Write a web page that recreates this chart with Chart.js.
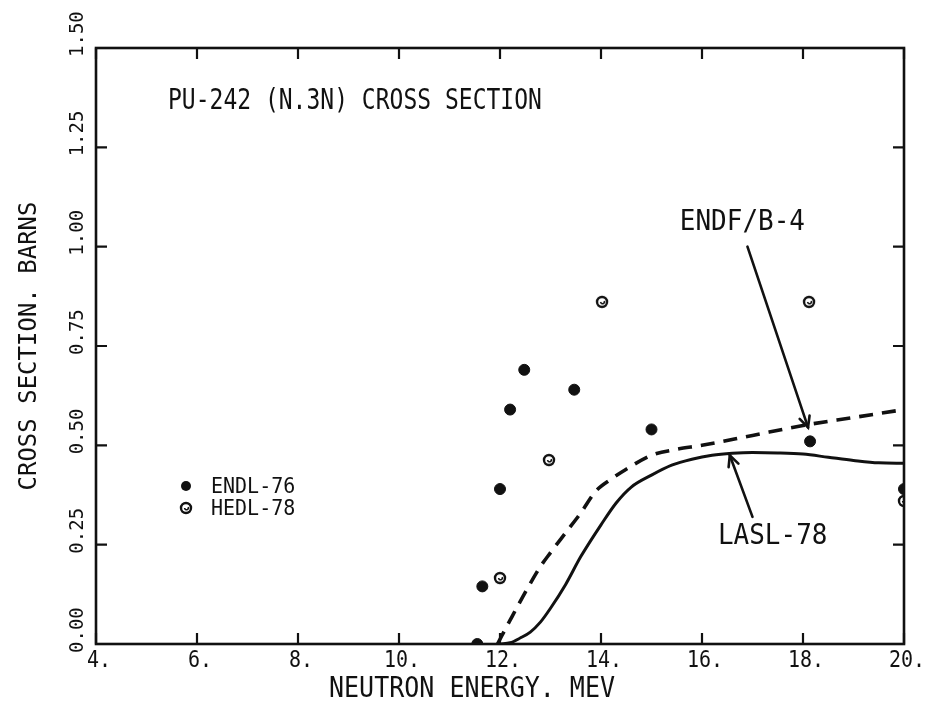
<!DOCTYPE html>
<html>
<head>
<meta charset="utf-8">
<script src="https://cdn.jsdelivr.net/npm/chart.js@4"></script>
<style>
  html, body { margin: 0; padding: 0; background: #fff; }
  #wrap { width: 932px; height: 714px; }
</style>
</head>
<body>
<div id="wrap"><canvas id="c" width="932" height="714"></canvas></div>
<script>
// ---------------- data ----------------
const titleText = "PU-242 (N.3N) CROSS SECTION";
const xAxisTitle = "NEUTRON ENERGY. MEV";
const yAxisTitle = "CROSS SECTION. BARNS";

const xTickValues = [4, 6, 8, 10, 12, 14, 16, 18, 20];
const xTickLabels = ["4.", "6.", "8.", "10.", "12.", "14.", "16.", "18.", "20."];
const yTickValues = [0, 0.25, 0.5, 0.75, 1.0, 1.25, 1.5];
const yTickLabels = ["0.00", "0.25", "0.50", "0.75", "1.00", "1.25", "1.50"];

// ENDL-76 (filled dots)
const endlX = [11.55, 11.65, 12.0, 12.2, 12.48, 13.47, 15.0, 18.14, 20.0];
const endlY = [0.0, 0.145, 0.39, 0.59, 0.69, 0.64, 0.54, 0.51, 0.39];

// HEDL-78 (open circles)
const hedlX = [12.0, 12.97, 14.02, 18.12, 20.0];
const hedlY = [0.166, 0.463, 0.861, 0.861, 0.36];

// ENDF/B-4 (dashed curve)
const endfX = [11.95, 12.2, 12.5, 12.8, 13.0, 13.3, 13.6, 13.9, 14.2, 14.5, 15.0, 15.5, 16.0, 17.0, 18.0, 19.0, 20.0];
const endfY = [0.0, 0.06, 0.13, 0.195, 0.23, 0.28, 0.33, 0.385, 0.415, 0.44, 0.475, 0.49, 0.50, 0.525, 0.55, 0.57, 0.59];

// LASL-78 (solid curve)
const laslX = [12.0, 12.2, 12.4, 12.6, 12.8, 13.0, 13.3, 13.6, 14.0, 14.3, 14.6, 15.0, 15.4, 15.8, 16.2, 16.6, 17.0, 17.5, 18.0, 18.5, 19.0, 19.5, 20.0];
const laslY = [0.0, 0.003, 0.015, 0.03, 0.055, 0.09, 0.15, 0.22, 0.30, 0.355, 0.395, 0.425, 0.45, 0.465, 0.475, 0.48, 0.482, 0.481, 0.478, 0.47, 0.462, 0.456, 0.455];

const legendLabels = ["ENDL-76", "HEDL-78"];
const endfLabel = "ENDF/B-4";
const laslLabel = "LASL-78";

// ---------------- helpers ----------------
const INK = "#111";
const FONT = '"DejaVu Sans Mono", "Liberation Mono", monospace';
const pts = (xs, ys) => xs.map((x, i) => ({ x: x, y: ys[i] }));

function makeOpenMarker() {
  const c = document.createElement("canvas");
  c.width = 16; c.height = 16;
  const g = c.getContext("2d");
  g.fillStyle = "#fff";
  g.strokeStyle = INK;
  g.lineWidth = 2.4;
  g.beginPath(); g.arc(8, 8, 5, 0, Math.PI * 2); g.fill(); g.stroke();
  g.lineWidth = 1.6;
  g.beginPath(); g.arc(8.5, 8, 1.8, -0.5, Math.PI); g.stroke();
  return c;
}
const openMarker = makeOpenMarker();

function drawText(ctx, s, x, y, size, opt) {
  opt = opt || {};
  ctx.save();
  ctx.translate(x, y);
  if (opt.rot) ctx.rotate(opt.rot);
  ctx.scale(1, opt.sy || 1.15);
  ctx.font = size + "px " + FONT;
  ctx.fillStyle = INK;
  ctx.textAlign = opt.align || "center";
  ctx.textBaseline = opt.baseline || "middle";
  ctx.fillText(s, 0, 0);
  ctx.restore();
}

function arrow(ctx, x0, y0, x1, y1) {
  ctx.save();
  ctx.strokeStyle = INK;
  ctx.lineWidth = 2.6;
  ctx.lineCap = "round";
  ctx.beginPath(); ctx.moveTo(x0, y0); ctx.lineTo(x1, y1); ctx.stroke();
  const a = Math.atan2(y1 - y0, x1 - x0);
  const L = 12, w = 0.45;
  ctx.beginPath();
  ctx.moveTo(x1 - L * Math.cos(a - w), y1 - L * Math.sin(a - w));
  ctx.lineTo(x1, y1);
  ctx.lineTo(x1 - L * Math.cos(a + w), y1 - L * Math.sin(a + w));
  ctx.stroke();
  ctx.restore();
}

const decor = {
  id: "decor",
  afterDatasetsDraw(chart) {
    const ctx = chart.ctx;
    const xs = chart.scales.x, ys = chart.scales.y;
    const a = chart.chartArea;
    ctx.save();
    // frame
    ctx.strokeStyle = INK;
    ctx.lineWidth = 2.6;
    ctx.strokeRect(a.left, a.top, a.right - a.left, a.bottom - a.top);
    // inward ticks
    const T = 11;
    ctx.lineWidth = 2.2;
    xTickValues.forEach(v => {
      const px = xs.getPixelForValue(v);
      ctx.beginPath();
      ctx.moveTo(px, a.bottom); ctx.lineTo(px, a.bottom - T);
      ctx.moveTo(px, a.top); ctx.lineTo(px, a.top + T);
      ctx.stroke();
    });
    yTickValues.forEach(v => {
      const py = ys.getPixelForValue(v);
      ctx.beginPath();
      ctx.moveTo(a.left, py); ctx.lineTo(a.left + T, py);
      ctx.moveTo(a.right, py); ctx.lineTo(a.right - T, py);
      ctx.stroke();
    });
    // tick labels
    xTickValues.forEach((v, i) => {
      drawText(ctx, xTickLabels[i], xs.getPixelForValue(v) + 3, a.bottom + 17, 20);
    });
    yTickValues.forEach((v, i) => {
      drawText(ctx, yTickLabels[i], a.left - 18, ys.getPixelForValue(v) + 9, 19,
        { rot: -Math.PI / 2, align: "left", sy: 1.0 });
    });
    // axis titles
    drawText(ctx, xAxisTitle, (a.left + a.right) / 2 - 28, a.bottom + 46, 25);
    drawText(ctx, yAxisTitle, 30, (a.top + a.bottom) / 2, 24, { rot: -Math.PI / 2, sy: 1.0 });
    // title
    drawText(ctx, titleText, 168, 102, 23, { align: "left", sy: 1.2 });
    // legend
    ctx.fillStyle = INK;
    ctx.beginPath(); ctx.arc(186, 486, 5, 0, Math.PI * 2); ctx.fill();
    ctx.drawImage(openMarker, 178, 500);
    drawText(ctx, legendLabels[0], 211, 487, 20, { align: "left", sy: 1.1 });
    drawText(ctx, legendLabels[1], 211, 509, 20, { align: "left", sy: 1.1 });
    // annotations (anchored in data coordinates)
    drawText(ctx, endfLabel, xs.getPixelForValue(16.8), ys.getPixelForValue(1.06), 26, { sy: 1.1 });
    arrow(ctx, xs.getPixelForValue(16.9), ys.getPixelForValue(1.0), xs.getPixelForValue(18.1), ys.getPixelForValue(0.545));
    drawText(ctx, laslLabel, xs.getPixelForValue(17.4), ys.getPixelForValue(0.27), 26, { sy: 1.1 });
    arrow(ctx, xs.getPixelForValue(17.0), ys.getPixelForValue(0.32), xs.getPixelForValue(16.55), ys.getPixelForValue(0.475));
    ctx.restore();
  }
};

new Chart(document.getElementById("c"), {
  type: "scatter",
  data: {
    datasets: [
      { label: "ENDL-76", data: pts(endlX, endlY), pointStyle: "circle", pointRadius: 5.5,
        backgroundColor: INK, borderColor: INK, borderWidth: 1, showLine: false },
      { label: "HEDL-78", data: pts(hedlX, hedlY), pointStyle: openMarker, pointRadius: 6,
        showLine: false },
      { label: "ENDF/B-4", data: pts(endfX, endfY), showLine: true, pointRadius: 0,
        borderColor: INK, borderWidth: 3.6, borderDash: [14, 9], cubicInterpolationMode: "monotone", fill: false },
      { label: "LASL-78", data: pts(laslX, laslY), showLine: true, pointRadius: 0,
        borderColor: INK, borderWidth: 3, cubicInterpolationMode: "monotone", fill: false }
    ]
  },
  options: {
    responsive: false,
    animation: false,
    events: [],
    layout: { padding: { left: 96, top: 48, right: 28, bottom: 70 } },
    plugins: { legend: { display: false }, tooltip: { enabled: false } },
    scales: {
      x: { type: "linear", min: 4, max: 20, display: false },
      y: { type: "linear", min: 0, max: 1.5, display: false }
    }
  },
  plugins: [decor]
});
</script>
</body>
</html>
